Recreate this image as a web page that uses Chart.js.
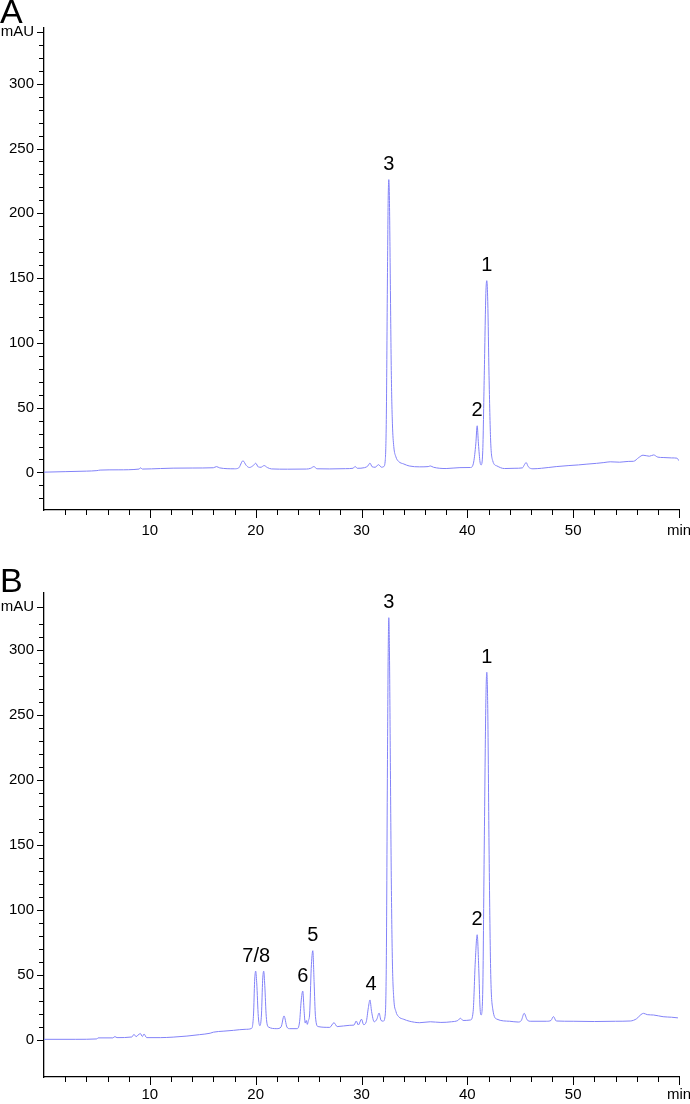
<!DOCTYPE html>
<html>
<head>
<meta charset="utf-8">
<script src="https://cdn.jsdelivr.net/npm/chart.js@4.4.1/dist/chart.umd.min.js"></script>
<style>
  html, body { margin: 0; padding: 0; background: #fff; }
  body { width: 690px; height: 1104px; position: relative; overflow: hidden; font-family: "Liberation Sans", Arial, sans-serif; }
  canvas { position: absolute; left: 0; }
  .tag { position: absolute; left: 0; font-size: 34px; line-height: 34px; color: #000; z-index: 2; }
</style>
</head>
<body>
<canvas id="chartA" width="690" height="550" style="top:0"></canvas>
<canvas id="chartB" width="690" height="554" style="top:550px"></canvas>
<div class="tag" style="top:-6px">A</div>
<div class="tag" style="top:563px">B</div>
<script>
// retention time (min) and absorbance (mAU)
const timeA = [
  0, 2, 4, 5, 5.3, 7, 9, 9.1, 9.3, 11,
  12.2, 14, 16, 16.3, 16.6, 18, 18.4, 18.8, 19.1, 19.4,
  19.8, 20, 20.25, 20.5, 20.8, 21.1, 21.5, 23, 24.8, 25.2,
  25.5, 25.8, 27, 28.5, 29.2, 29.4, 29.6, 30.3, 30.6, 30.8,
  31, 31.3, 31.6, 31.9, 32.1, 32.25, 32.35, 32.45, 32.52, 32.58,
  32.64, 32.72, 32.82, 32.92, 33.05, 33.25, 33.5, 34, 34.5, 35.5,
  36.3, 36.5, 36.8, 38, 39.3, 40.3, 40.6, 40.8, 40.93, 41.05,
  41.2, 41.3, 41.45, 41.6, 41.75, 41.84, 41.93, 42.05, 42.2, 42.4,
  42.8, 43.5, 44.5, 45.2, 45.4, 45.56, 45.75, 46.2, 47, 48.4,
  49.6, 50.5, 51.3, 52.2, 52.9, 53.5, 54.4, 55.2, 55.7, 56.2,
  56.6, 57.2, 57.6, 58, 58.5, 59.3, 59.8, 60
];
const mauA = [
  0.2, 0.6, 1.0, 1.4, 1.8, 2.0, 2.6, 3.6, 2.6, 3.0,
  3.3, 3.4, 3.6, 4.5, 3.5, 2.8, 3.5, 9.0, 5.5, 3.8,
  5.5, 7.1, 4.2, 4.0, 5.3, 3.8, 2.7, 2.5, 2.6, 3.2,
  4.5, 2.8, 2.7, 2.9, 3.2, 4.6, 3.2, 3.7, 5.0, 7.2,
  4.4, 4.0, 6.0, 4.0, 4.5, 10, 45, 150, 210, 226,
  210, 150, 75, 38, 20, 12, 8.5, 6.5, 5.0, 4.3,
  4.5, 5.0, 4.0, 3.0, 3.7, 3.8, 8, 22, 36, 22,
  8, 5.8, 15, 75, 138, 148, 132, 75, 25, 9,
  5.0, 3.0, 3.2, 3.5, 6.0, 7.6, 4.5, 2.8, 3.2, 4.5,
  5.3, 5.8, 6.4, 7.0, 7.6, 8.2, 7.9, 8.5, 8.6, 11.5,
  13.3, 12.5, 13.5, 11.8, 11.5, 11.2, 11.0, 9.0
];

const timeB = [
  0, 3, 5, 5.1, 6.5, 6.7, 6.9, 8.3, 8.5, 8.7,
  9.1, 9.3, 9.45, 9.7, 11, 12.2, 13.5, 14.7, 15.7, 16,
  17, 17.9, 19, 19.6, 19.8, 19.9, 20, 20.1, 20.25, 20.4,
  20.55, 20.66, 20.76, 20.86, 21, 21.2, 22, 22.4, 22.68, 22.95,
  23.2, 23.9, 24.15, 24.3, 24.45, 24.58, 24.68, 24.78, 24.88, 24.98,
  25.1, 25.25, 25.4, 25.52, 25.65, 25.9, 27, 27.4, 27.7, 28.9,
  29.3, 29.5, 29.7, 30, 30.2, 30.45, 30.65, 30.8, 30.95, 31.2,
  31.45, 31.66, 31.85, 32.05, 32.25, 32.35, 32.45, 32.52, 32.58, 32.64,
  32.72, 32.82, 32.92, 33.05, 33.25, 33.5, 34, 34.5, 35.5, 36.5,
  37.5, 38.5, 39.1, 39.35, 39.6, 40.3, 40.55, 40.75, 40.93, 41.08,
  41.2, 41.3, 41.45, 41.6, 41.75, 41.84, 41.93, 42.05, 42.2, 42.4,
  42.8, 44, 44.8, 45.1, 45.37, 45.65, 46, 47.5, 47.9, 48.14,
  48.4, 50, 52, 54, 55.4, 56, 56.4, 56.65, 57, 57.6,
  58.5, 59.3, 59.9
];
const mauB = [
  0.5, 0.5, 0.8, 1.6, 1.6, 2.6, 1.8, 2.3, 4.3, 2.6,
  5.0, 2.6, 4.6, 1.8, 1.8, 2.2, 3.0, 4.1, 5.2, 6.0,
  6.8, 7.4, 8.2, 8.8, 20, 45, 53, 44, 18, 11,
  20, 46, 53, 42, 18, 10, 8.7, 10, 18.5, 10,
  8.7, 8.7, 14, 30, 37.7, 22, 13, 15, 12, 15,
  20, 55, 68.7, 45, 18, 10.3, 9.7, 13.3, 10.3, 11.3,
  11.5, 14.6, 11.5, 16, 11.8, 14, 25, 30.8, 22, 14,
  16, 20.7, 15, 14.5, 20, 65, 210, 295, 325, 300,
  220, 120, 60, 32, 22, 18, 15.9, 14.5, 13.3, 14.0,
  13.5, 14, 15, 16.7, 15, 15.4, 22, 60, 81, 55,
  25, 19.2, 35, 150, 260, 283, 255, 150, 55, 24,
  16, 14.4, 13.8, 15, 20.5, 15.5, 14.4, 14.4, 15, 18,
  14.6, 14.4, 14.2, 14.4, 14.6, 16.4, 19.5, 20.5, 19.5, 19.2,
  17.9, 17.5, 17.0
];

// peak numbers: name, retention time, apex height
const peakNamesA = ['3', '1', '2'];
const peakTimesA = [32.58, 41.84, 40.93];
const peakTopsA = [226, 148, 36];

const peakNamesB = ['7/8', '6', '5', '4', '3', '2', '1'];
const peakTimesB = [20.05, 24.45, 25.4, 30.9, 32.58, 40.93, 41.84];
const peakTopsB = [53, 37.7, 68.7, 30.8, 325, 81, 283];

// axis ticks
const xTicks = [2, 4, 6, 8, 10, 12, 14, 16, 18, 20, 22, 24, 26, 28, 30,
  32, 34, 36, 38, 40, 42, 44, 46, 48, 50, 52, 54, 56, 58, 60];
const yTicksA = [-20, -10, 0, 10, 20, 30, 40, 50, 60, 70, 80, 90, 100, 110, 120, 130, 140,
  150, 160, 170, 180, 190, 200, 210, 220, 230, 240, 250, 260, 270, 280, 290, 300,
  310, 320, 330, 340];
const yTicksB = [0, 10, 20, 30, 40, 50, 60, 70, 80, 90, 100, 110, 120, 130, 140,
  150, 160, 170, 180, 190, 200, 210, 220, 230, 240, 250, 260, 270, 280, 290, 300,
  310, 320, 333];
const unitTickA = 340;
const unitTickB = 333;

const FONT = '"Liberation Sans", Arial, sans-serif';

// hand-drawn tick marks (long ones under labels) and peak numbers
const marksPlugin = {
  id: 'marks',
  afterDraw(chart, args, opts) {
    const ctx = chart.ctx;
    const xs = chart.scales.x, ys = chart.scales.y;
    ctx.save();
    ctx.strokeStyle = '#000';
    ctx.lineWidth = 1;
    ctx.beginPath();
    xs.ticks.forEach(t => {
      const px = Math.round(xs.getPixelForValue(t.value)) + 0.5;
      ctx.moveTo(px, xs.top);
      ctx.lineTo(px, xs.top + (t.label ? 8 : 5));
    });
    ys.ticks.forEach(t => {
      const py = Math.round(ys.getPixelForValue(t.value)) + 0.5;
      ctx.moveTo(ys.right, py);
      ctx.lineTo(ys.right - (t.label ? 7 : 5), py);
    });
    ctx.stroke();

    ctx.fillStyle = '#000';
    ctx.font = '20px ' + FONT;
    ctx.textAlign = 'center';
    ctx.textBaseline = 'bottom';
    opts.names.forEach((n, i) => {
      ctx.fillText(n, xs.getPixelForValue(opts.times[i]), ys.getPixelForValue(opts.tops[i]) - 5);
    });
    ctx.restore();
  }
};

function makeChart(id, times, values, yMin, yMax, yTicks, unitTick, peaks, padTop, xHeight, xPad) {
  const pts = times.map((t, i) => ({ x: t, y: values[i] }));
  return new Chart(document.getElementById(id), {
    type: 'line',
    data: {
      datasets: [{
        data: pts,
        borderColor: '#8282f8',
        borderWidth: 1,
        pointRadius: 0,
        fill: false,
        cubicInterpolationMode: 'monotone'
      }]
    },
    options: {
      responsive: false,
      animation: false,
      devicePixelRatio: 1,
      layout: { padding: { left: 0, right: 11, top: padTop, bottom: 0 } },
      plugins: {
        legend: { display: false },
        tooltip: { enabled: false },
        marks: peaks
      },
      scales: {
        x: {
          type: 'linear',
          min: 0,
          max: 60,
          grid: { display: false, drawTicks: false },
          border: { display: true, color: '#000', width: 1.3 },
          ticks: {
            autoSkip: false,
            maxRotation: 0,
            padding: xPad,
            color: '#000',
            font: { family: FONT, size: 15 },
            callback: v => v === 60 ? 'min' : (v % 10 === 0 ? String(v) : '')
          },
          afterBuildTicks: s => { s.ticks = xTicks.map(v => ({ value: v })); },
          afterFit: s => { s.height = xHeight; s.paddingLeft = 0; s.paddingRight = 0; }
        },
        y: {
          type: 'linear',
          min: yMin,
          max: yMax,
          grid: { display: false, drawTicks: false },
          border: { display: true, color: '#000', width: 1.3 },
          ticks: {
            autoSkip: false,
            padding: 10,
            color: '#000',
            font: { family: FONT, size: 15 },
            callback: v => v === unitTick ? 'mAU' : (v % 50 === 0 ? String(v) : '')
          },
          afterBuildTicks: s => { s.ticks = yTicks.map(v => ({ value: v })); },
          afterFit: s => { s.width = 44; s.paddingTop = 0; s.paddingBottom = 0; }
        }
      }
    },
    plugins: [marksPlugin]
  });
}

makeChart('chartA', timeA, mauA, -29, 343, yTicksA, unitTickA,
  { names: peakNamesA, times: peakTimesA, tops: peakTopsA }, 28, 40, 12);
makeChart('chartB', timeB, mauB, -28.5, 344, yTicksB, unitTickB,
  { names: peakNamesB, times: peakTimesB, tops: peakTopsB }, 43, 27, 9);
</script>
</body>
</html>
